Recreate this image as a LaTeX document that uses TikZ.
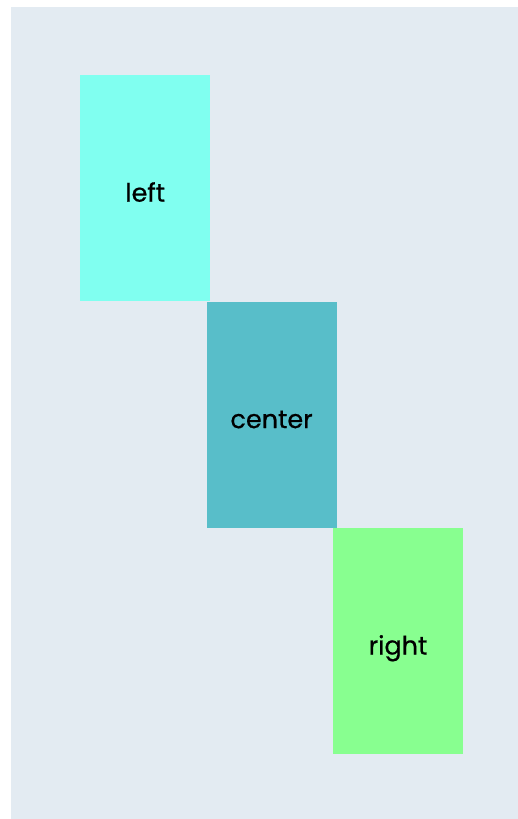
\documentclass[tikz,border=0pt]{standalone}
\usepackage{fontspec}
\setmainfont{Poppins}[FakeBold=0.6]
\usetikzlibrary{positioning}
\definecolor{panelbg}{HTML}{E3EBF2}
\definecolor{leftcol}{HTML}{80FFF0}
\definecolor{centercol}{HTML}{58BEC9}
\definecolor{rightcol}{HTML}{88FF90}
\begin{document}
\begin{tikzpicture}[x=1pt, y=-1pt, font=\fontsize{25.5}{28}\selectfont]
        \tikzset{
            panel/.style={fill=panelbg, draw=none},
            colbox/.style={draw=none, minimum width=130pt, minimum height=226pt,
                inner sep=0pt, text=black, text height=27pt, text depth=0pt,
                anchor=north west}
        }

        \useasboundingbox (0,0) rectangle (518,819);
        \fill[white] (0,0) rectangle (518,819);
        \fill[panel] (11,7) rectangle (518,819);

        \node[colbox, fill=leftcol] (left) at (80,75) {left};
        \node[colbox, fill=centercol, anchor=north west] (center)
            at ([xshift=-4pt]left.south east) {center};
        \node[colbox, fill=rightcol, anchor=north west] (right)
            at ([xshift=-4pt]center.south east) {right};
    \end{tikzpicture}
\end{document}
